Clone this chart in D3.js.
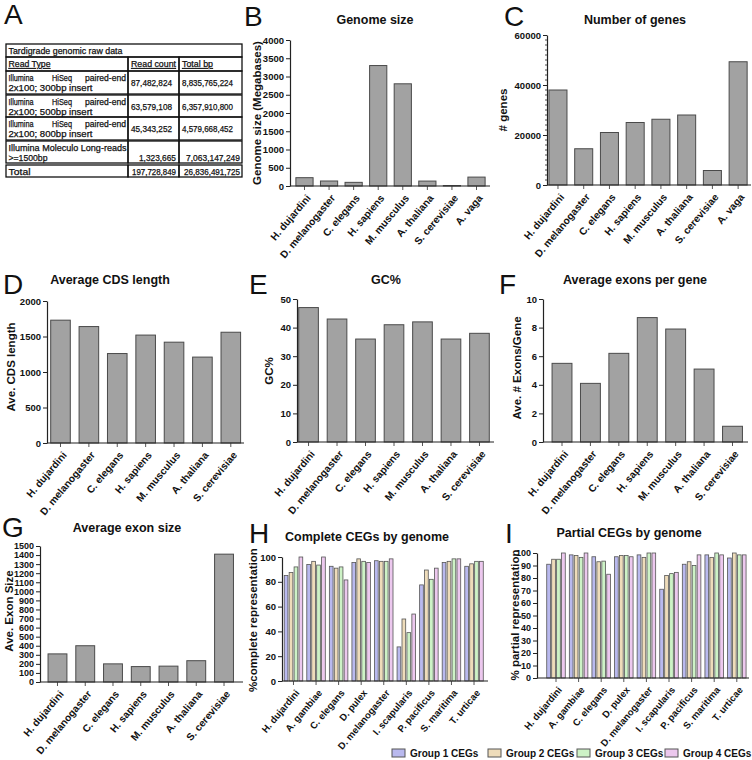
<!DOCTYPE html>
<html><head><meta charset="utf-8">
<script src="https://cdn.jsdelivr.net/npm/d3@7/dist/d3.min.js"></script>
<style>
body{margin:0;background:#fff}
svg{display:block}
text{font-family:"Liberation Sans",Arial,Helvetica,sans-serif;fill:#111}
</style>
</head><body>
<svg id="c" width="752" height="760"></svg>
<script>
// ---------------- data ----------------
const species8 = ["H. dujardini","D. melanogaster","C. elegans","H. sapiens","M. musculus","A. thaliana","S. cerevisiae","A. vaga"];
const species7 = ["H. dujardini","D. melanogaster","C. elegans","H. sapiens","M. musculus","A. thaliana","S. cerevisiae"];
const genomeSize = [228,137,100,3300,2800,135,12,244];
const geneCount = [38000,14500,21000,25000,26300,28000,5800,49300];
const cdsLength = [1730,1640,1260,1520,1420,1210,1560];
const gcPercent = [47,43,36,41,42,36,38];
const exonsPerGene = [5.5,4.1,6.2,8.7,7.9,5.1,1.1];
const exonSize = [310,400,200,170,175,235,1410];
const cegGenomes = ["H. dujardini","A. gambiae","C. elegans","D. pulex","D. melanogaster","I. scapularis","P. pacificus","S. maritima","T. urticae"];
const cegGroups = ["Group 1 CEGs","Group 2 CEGs","Group 3 CEGs","Group 4 CEGs"];
const completeCEG = [[85,87.5,92,100],[94,96.5,93.5,100],[92.5,91,92,81.5],[95.5,98.5,96.5,95.5],[97,96.5,96.5,98.5],[27.5,50,39,54],[77.5,89.5,82,91],[95.5,96.5,98.5,98.5],[92.5,94.5,96.5,96.5]];
const partialCEG = [[91,95,95,100],[98.5,98,96.5,100],[97,93,93.5,83],[97,98,98,97],[98.5,96.5,100,100],[71,82,83.5,84.5],[91,93,90,98.5],[98.5,96.5,100,98.5],[96,100,98.5,98.5]];
const tableTitle = "Tardigrade genomic raw data";
const tableHeader = ["Read Type","Read count","Total bp"];
const readTypes = [["Illumina HiSeq paired-end","2x100; 300bp insert"],["Illumina HiSeq paired-end","2x100; 500bp insert"],["Illumina HiSeq paired-end","2x100; 800bp insert"],["Illumina Moleculo Long-reads",">=1500bp"],["Total"]];
const readCounts = ["87,482,824","63,579,108","45,343,252","1,323,665","197,728,849"];
const totalBp = ["8,835,765,224","6,357,910,800","4,579,668,452","7,063,147,249","26,836,491,725"];

// ---------------- drawing ----------------
const svg = d3.select("#c");
const BAR_FILL = "#a2a2a2", BAR_STROKE = "#4a4a4a", AXIS = "#222";
const groupColors = ["#b9b9ee","#eedcba","#cdf2c6","#ecc8ee"];

function letter(t,x,y){
  svg.append("text").attr("x",x).attr("y",y).attr("font-size",28).text(t);
}

function yAxis(g, y, o){
  const ax = d3.axisLeft(y).tickValues(d3.range(0,o.max+1e-9,o.step))
    .tickSize(4).tickSizeOuter(0).tickPadding(2).tickFormat(d3.format("d"));
  const ga = g.append("g").attr("transform",`translate(${o.ax},0)`).call(ax);
  ga.select(".domain").attr("stroke",AXIS).attr("stroke-width",1.2);
  ga.selectAll(".tick line").attr("stroke",AXIS);
  ga.selectAll(".tick text").attr("font-size",o.tickFont||9.5).attr("font-weight","bold").attr("fill","#111")
    .attr("font-family","Liberation Sans, Arial, sans-serif");
  if(o.minor){
    const mv = d3.range(0,o.max+1e-9,o.minor).filter(v=>Math.abs(v/o.step-Math.round(v/o.step))>1e-6);
    g.append("g").selectAll("line").data(mv).join("line")
      .attr("x1",o.ax-2).attr("x2",o.ax).attr("y1",d=>y(d)).attr("y2",d=>y(d))
      .attr("stroke",AXIS).attr("stroke-width",0.8);
  }
}

function xAxis(g, x, o, yb, fs){
  const ax = d3.axisBottom(x).tickSize(4).tickSizeOuter(0).tickPadding(0);
  const ga = g.append("g").attr("transform",`translate(0,${yb})`).call(ax);
  ga.select(".domain").remove();
  ga.selectAll(".tick line").attr("stroke","#555");
  ga.selectAll(".tick text")
    .attr("font-size",fs||10.2).attr("font-weight","bold").attr("fill","#111")
    .attr("font-family","Liberation Sans, Arial, sans-serif")
    .attr("text-anchor","end").attr("x",0).attr("y",0).attr("dy","0.35em")
    .attr("transform","translate(4,10) rotate(-50)");
  g.append("line").attr("x1",o.ax).attr("x2",o.xEnd).attr("y1",yb).attr("y2",yb)
    .attr("stroke",AXIS).attr("stroke-width",1.2);
}

function titles(g,o){
  g.append("text").attr("x",o.tx).attr("y",o.ty).attr("text-anchor","middle")
    .attr("font-size",12.5).attr("font-weight","bold").text(o.title);
  g.append("text").attr("transform",`translate(${o.lx},${o.ly}) rotate(-90)`)
    .attr("text-anchor","middle").attr("font-size",11.5).attr("font-weight","bold").text(o.ylabel);
}

function barPanel(o){
  const g = svg.append("g");
  const x = d3.scaleBand().domain(o.cats).range([o.x0,o.x1]).paddingInner(o.pad).paddingOuter(o.pad/2);
  const y = d3.scaleLinear().domain([0,o.max]).range([o.yb,o.yt]);
  g.append("g").selectAll("rect").data(o.values).join("rect")
    .attr("x",(d,i)=>x(o.cats[i])).attr("y",d=>y(d))
    .attr("width",x.bandwidth()).attr("height",d=>y(0)-y(d))
    .attr("fill",BAR_FILL).attr("stroke",BAR_STROKE).attr("stroke-width",1);
  yAxis(g,y,o);
  xAxis(g,x,{ax:o.ax,xEnd:o.xEnd},o.yb,o.xFont);
  titles(g,o);
}

function groupPanel(o){
  const g = svg.append("g");
  const x = d3.scaleBand().domain(o.cats).range([o.x0,o.x1]).paddingInner(o.pad).paddingOuter(o.pad/2);
  const xi = d3.scaleBand().domain(cegGroups).range([0,x.bandwidth()]).paddingInner(0.25);
  const y = d3.scaleLinear().domain([0,o.max]).range([o.yb,o.yt]);
  const gg = g.append("g").selectAll("g").data(o.values).join("g")
    .attr("transform",(d,i)=>`translate(${x(o.cats[i])},0)`);
  gg.selectAll("rect").data(d=>d.map((v,j)=>({v,k:cegGroups[j],j}))).join("rect")
    .attr("x",d=>xi(d.k)).attr("y",d=>y(d.v)).attr("width",xi.bandwidth()).attr("height",d=>y(0)-y(d.v))
    .attr("fill",d=>groupColors[d.j]).attr("stroke","#555").attr("stroke-width",0.8);
  yAxis(g,y,o);
  xAxis(g,x,{ax:o.ax,xEnd:o.xEnd},o.yb,o.xFont);
  titles(g,o);
}

// Panel A: table
(function(){
  letter("A",4,24);
  const g = svg.append("g");
  const L=6, C1=128, C2=179, R=242;
  const rowsY = [[44,57],[57,71],[71,94],[95,117],[117,140],[141,163],[165,177]];
  g.append("rect").attr("x",L).attr("y",rowsY[0][0]).attr("width",R-L).attr("height",rowsY[0][1]-rowsY[0][0])
    .attr("fill","none").attr("stroke","#111").attr("stroke-width",1.3);
  rowsY.slice(1).forEach(r=>{
    [[L,C1],[C1,C2],[C2,R]].forEach(c=>{
      g.append("rect").attr("x",c[0]).attr("y",r[0]).attr("width",c[1]-c[0]).attr("height",r[1]-r[0])
        .attr("fill","none").attr("stroke","#111").attr("stroke-width",1.3);
    });
  });
  const T=(s,x,y,w,anchor)=>{
    const t=g.append("text").attr("x",x).attr("y",y).attr("font-size",8.8)
      .attr("stroke","#111").attr("stroke-width",0.25).text(s);
    if(anchor) t.attr("text-anchor",anchor);
    if(w) t.attr("textLength",w).attr("lengthAdjust","spacingAndGlyphs");
    return t;
  };
  T(tableTitle,8.5,54,114);
  T(tableHeader[0],8.5,67,42).attr("text-decoration","underline");
  T(tableHeader[1],131,67,45).attr("text-decoration","underline");
  T(tableHeader[2],182,67,31).attr("text-decoration","underline");
  const rowTop=[71,95,117,141];
  readTypes.slice(0,3).forEach((r,i)=>{
    const y0=rowTop[i];
    const w=r[0].split(" ");
    T(w[0],8.5,y0+9.5,25);
    T(w[1],52,y0+9.5,20);
    T(w[2],126,y0+9.5,41,"end");
    T(r[1],8.5,y0+20,84);
    T(readCounts[i],131,y0+15,41);
    T(totalBp[i],182,y0+15,51);
  });
  T(readTypes[3][0],8.5,150.5,118);
  T(readTypes[3][1],8.5,161,39);
  T(readCounts[3],176,161,37,"end");
  T(totalBp[3],240,161,54,"end");
  T(readTypes[4][0],8.5,174.5,22);
  T(readCounts[4],176,174.5,44,"end");
  T(totalBp[4],240,174.5,56,"end");
})();

letter("B",244,26);
barPanel({cats:species8,values:genomeSize,x0:292.2,x1:488.8,pad:0.3,ax:290,xEnd:490,
  yb:186,yt:40,max:4000,step:500,title:"Genome size",tx:375,ty:24,
  ylabel:"Genome size (Megabases)",lx:261,ly:113});

letter("C",504,26);
barPanel({cats:species8,values:geneCount,x0:545.1,x1:751,pad:0.3,ax:547,xEnd:751,
  yb:185,yt:35,max:60000,step:20000,minor:2000,title:"Number of genes",tx:635,ty:24,
  ylabel:"# genes",lx:507,ly:110});

letter("D",3,294);
barPanel({cats:species7,values:cdsLength,x0:46.3,x1:245,pad:0.31,ax:47,xEnd:244,
  yb:443,yt:301,max:2000,step:500,title:"Average CDS length",tx:110,ty:284,
  ylabel:"Ave. CDS length",lx:15,ly:367});

letter("E",249,294);
barPanel({cats:species7,values:gcPercent,x0:294.3,x1:493.7,pad:0.31,ax:297,xEnd:494,
  yb:442,yt:299,max:50,step:10,title:"GC%",tx:386,ty:284,
  ylabel:"GC%",lx:273,ly:371});

letter("F",499,294);
barPanel({cats:species7,values:exonsPerGene,x0:547.8,x1:746.7,pad:0.3,ax:543,xEnd:748,
  yb:442,yt:299,max:10,step:2,title:"Average exons per gene",tx:635,ty:284,
  ylabel:"Ave. # Exons/Gene",lx:521,ly:368});

letter("G",2,537);
barPanel({cats:species7,values:exonSize,x0:43.6,x1:237.9,pad:0.32,ax:40,xEnd:243,
  yb:682,yt:546,max:1500,step:100,tickFont:9,title:"Average exon size",tx:127,ty:532,
  ylabel:"Ave. Exon Size",lx:13,ly:611});

letter("H",249,543);
groupPanel({cats:cegGenomes,values:completeCEG,x0:282.2,x1:485.3,pad:0.18,ax:282,xEnd:488,
  yb:681,yt:557,max:100,step:20,xFont:9.6,title:"Complete CEGs by genome",tx:367,ty:541,
  ylabel:"%complete representation",lx:257,ly:620});

letter("I",505,543);
groupPanel({cats:cegGenomes,values:partialCEG,x0:544.7,x1:748.1,pad:0.18,ax:537,xEnd:749,
  yb:678,yt:553,max:100,step:10,tickFont:9,xFont:9.6,title:"Partial CEGs by genome",tx:629,ty:537,
  ylabel:"% partial representation",lx:519,ly:615});

// legend
(function(){
  const lx=[392,488,577,665];
  const lg = svg.append("g");
  const items = lg.selectAll("g").data(cegGroups).join("g").attr("transform",(d,i)=>`translate(${lx[i]},749)`);
  items.append("rect").attr("width",13).attr("height",8).attr("fill",(d,i)=>groupColors[i]).attr("stroke","#555");
  items.append("text").attr("x",18).attr("y",8).attr("font-size",10).attr("font-weight","bold").text(d=>d);
})();
</script>
</body></html>
